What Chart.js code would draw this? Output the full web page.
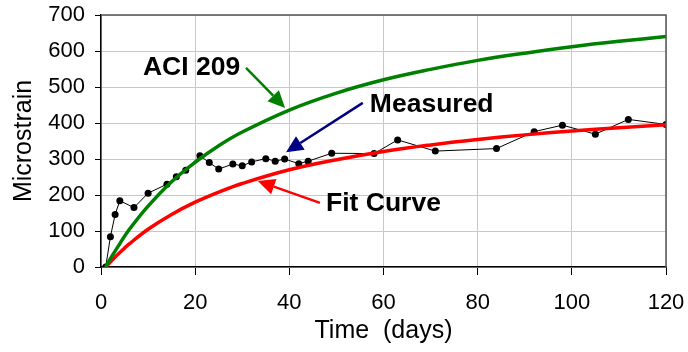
<!DOCTYPE html>
<html lang="en">

<head>
    <meta charset="UTF-8">
    <title>Microstrain vs Time</title>
    <script src="https://cdn.jsdelivr.net/npm/chart.js"></script>
    <style>
        body { margin: 0; background: #ffffff; }
        #wrap { width: 688px; height: 352px; }
    </style>
</head>

<body>
    <div id="wrap"><canvas id="strainChart" width="688" height="352"></canvas></div>

    <script>
        // measured points (days, microstrain)
        const measuredDays = [1, 2, 3, 4, 7, 10, 14, 16, 18, 21, 23, 25, 28, 30, 32, 35, 37, 39, 42, 44, 49, 58, 63, 71, 84, 92, 98, 105, 112, 120];
        const measuredVals = [0, 84, 146, 184, 165, 205, 230, 251, 269, 309, 290, 272, 286, 281, 292, 301, 294, 300, 287, 294, 316, 315, 353, 322, 329, 376, 394, 369, 410, 396];

        // smooth curves at these days
        const curveDays = [1, 2, 4, 6, 10, 15, 20, 25, 30, 40, 50, 60, 70, 80, 90, 100, 110, 120];
        const aciVals = [0, 23, 65, 104, 169, 237, 291, 337, 375, 436, 483, 520, 549, 574, 594, 612, 627, 640];
        const fitVals = [0, 14, 40, 64, 105, 146, 180, 208, 232, 270, 298, 321, 339, 354, 367, 378, 387, 395];

        const xTicks = [0, 20, 40, 60, 80, 100, 120];
        const yTicks = [0, 100, 200, 300, 400, 500, 600, 700];

        const FONT = "'Liberation Sans', Arial, sans-serif";

        function toPoints(xs, ys) {
            let pts = [];
            for (let i = 0; i < xs.length; i++) {
                pts.push({ x: xs[i], y: ys[i] });
            }
            return pts;
        }

        // text labels and arrows, placed in data units
        const notes = [
            { text: "ACI 209", x: 8.9, y: 533, color: "#008000", from: [30.8, 553], to: [39.1, 442] },
            { text: "Measured", x: 57.1, y: 431, color: "#000080", from: [55.6, 456], to: [39.3, 319] },
            { text: "Fit Curve", x: 47.8, y: 156, color: "#ff0000", from: [46.5, 178], to: [33.3, 239] }
        ];

        function drawArrow(ctx, x1, y1, x2, y2, color) {
            let ang = Math.atan2(y2 - y1, x2 - x1);
            let headLen = 17, headW = 8;
            let bx = x2 - headLen * Math.cos(ang);
            let by = y2 - headLen * Math.sin(ang);
            ctx.strokeStyle = color;
            ctx.fillStyle = color;
            ctx.lineWidth = 2.5;
            ctx.beginPath();
            ctx.moveTo(x1, y1);
            ctx.lineTo(bx, by);
            ctx.stroke();
            ctx.beginPath();
            ctx.moveTo(x2, y2);
            ctx.lineTo(bx + headW * Math.sin(ang), by - headW * Math.cos(ang));
            ctx.lineTo(bx - headW * Math.sin(ang), by + headW * Math.cos(ang));
            ctx.closePath();
            ctx.fill();
        }

        const notesPlugin = {
            id: "notes",
            afterDraw(chart) {
                let ctx = chart.ctx;
                let xs = chart.scales.x, ys = chart.scales.y;
                let area = chart.chartArea;
                ctx.save();
                // frame on top and right
                ctx.strokeStyle = "#555555";
                ctx.lineWidth = 1.5;
                ctx.beginPath();
                ctx.moveTo(area.left, area.top);
                ctx.lineTo(area.right, area.top);
                ctx.lineTo(area.right, area.bottom);
                ctx.stroke();

                for (let n of notes) {
                    drawArrow(ctx, xs.getPixelForValue(n.from[0]), ys.getPixelForValue(n.from[1]),
                        xs.getPixelForValue(n.to[0]), ys.getPixelForValue(n.to[1]), n.color);
                    ctx.fillStyle = "#000000";
                    ctx.font = "bold 26.5px " + FONT;
                    ctx.textBaseline = "alphabetic";
                    ctx.textAlign = "left";
                    ctx.fillText(n.text, xs.getPixelForValue(n.x), ys.getPixelForValue(n.y));
                }
                ctx.restore();
            }
        };

        let ctx = document.getElementById("strainChart").getContext("2d");
        let chartInstance = new Chart(ctx, {
            type: "line",
            data: {
                datasets: [
                    {
                        label: "ACI 209",
                        data: toPoints(curveDays, aciVals),
                        borderColor: "#008000",
                        borderWidth: 3.5,
                        pointRadius: 0,
                        tension: 0.4,
                        fill: false
                    },
                    {
                        label: "Fit Curve",
                        data: toPoints(curveDays, fitVals),
                        borderColor: "#ff0000",
                        borderWidth: 3.5,
                        pointRadius: 0,
                        tension: 0.4,
                        fill: false
                    },
                    {
                        label: "Measured",
                        data: toPoints(measuredDays, measuredVals),
                        borderColor: "#000000",
                        backgroundColor: "#000000",
                        borderWidth: 1,
                        pointRadius: 3.5,
                        pointBorderWidth: 0,
                        tension: 0,
                        fill: false
                    }
                ]
            },
            options: {
                responsive: false,
                animation: false,
                layout: { padding: { left: 0, top: 15, right: 22, bottom: 0 } },
                plugins: {
                    legend: { display: false },
                    tooltip: { enabled: false }
                },
                scales: {
                    x: {
                        type: "linear",
                        min: 0,
                        max: 120,
                        afterBuildTicks: (scale) => { scale.ticks = xTicks.map(v => ({ value: v })); },
                        afterFit: (scale) => {
                            scale.height = 85;
                            // let the layout padding decide the plot edges
                            scale.paddingLeft = 0;
                            scale.paddingRight = 0;
                        },
                        grid: { color: "#c8c8c8", tickColor: "#000000", tickLength: 8, lineWidth: 1 },
                        border: { color: "#000000", width: 1.5 },
                        ticks: { color: "#000000", padding: 15, font: { family: FONT, size: 22 }, maxRotation: 0 },
                        title: {
                            display: true,
                            text: "Time  (days)",
                            color: "#000000",
                            padding: { top: 2, bottom: 6 },
                            font: { family: FONT, size: 25 }
                        }
                    },
                    y: {
                        min: 0,
                        max: 700,
                        afterBuildTicks: (scale) => { scale.ticks = yTicks.map(v => ({ value: v })); },
                        afterFit: (scale) => {
                            scale.width = 101;
                            scale.paddingTop = 0;
                            scale.paddingBottom = 0;
                        },
                        grid: { color: "#c8c8c8", tickColor: "#000000", tickLength: 6, lineWidth: 1 },
                        border: { color: "#000000", width: 1.5 },
                        ticks: { color: "#000000", padding: 10, font: { family: FONT, size: 22 } },
                        title: {
                            display: true,
                            text: "Microstrain",
                            color: "#000000",
                            padding: { top: 9, bottom: 4 },
                            font: { family: FONT, size: 25 }
                        }
                    }
                }
            },
            plugins: [notesPlugin]
        });
    </script>
</body>

</html>
